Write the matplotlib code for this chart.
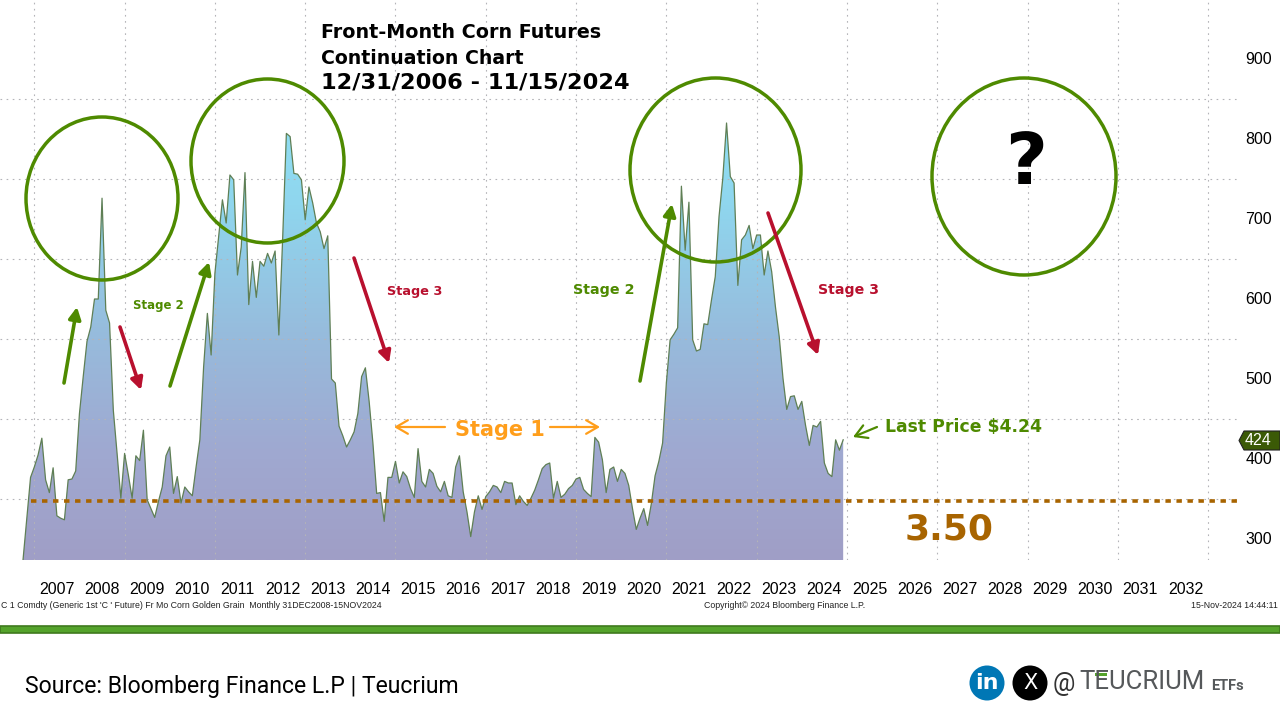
import numpy as np
import matplotlib
matplotlib.use("Agg")
import matplotlib.pyplot as plt
from matplotlib.colors import LinearSegmentedColormap
from matplotlib.patches import Ellipse, Circle, Polygon, Rectangle
from matplotlib.transforms import ScaledTranslation

# =========================
# Data
# =========================

# monthly closes, cents per bushel, the first two points are the clipped start
prices = [
    274, 325, 377, 390, 405, 426, 374, 358, 389, 329, 326, 324, 374, 375, 385, 457,
    503, 547, 565, 600, 600, 726, 586, 570, 461, 407, 351, 407, 380, 351, 404, 398,
    436, 349, 338, 327, 347, 365, 404, 415, 357, 378, 345, 365, 359, 354, 390, 424,
    515, 582, 530, 632, 678, 724, 695, 755, 749, 630, 665, 758, 593, 647, 602, 647,
    641, 657, 645, 660, 555, 674, 807, 803, 757, 756, 749, 699, 740, 720, 695, 684,
    663, 679, 500, 495, 441, 429, 415, 424, 434, 457, 503, 514, 472, 420, 357, 358,
    322, 377, 377, 397, 370, 384, 378, 363, 352, 413, 372, 365, 387, 382, 366, 359,
    372, 354, 352, 390, 404, 359, 334, 303, 334, 354, 337, 353, 359, 367, 365, 358,
    372, 370, 370, 343, 354, 347, 342, 351, 361, 374, 388, 393, 395, 351, 372, 352,
    356, 363, 367, 375, 377, 362, 357, 353, 427, 421, 399, 358, 387, 390, 372, 387,
    382, 367, 338, 312, 326, 338, 317, 344, 379, 397, 420, 495, 549, 556, 564, 741,
    661, 721, 549, 535, 537, 569, 568, 599, 628, 703, 751, 820, 753, 745, 617, 674,
    680, 692, 663, 680, 680, 630, 660, 634, 590, 553, 501, 462, 478, 479, 462, 472,
    442, 417, 442, 440, 447, 395, 382, 378, 424, 411, 424,
]
first_month = 2006.75
support_level = 347

year_labels = list(range(2007, 2033))
grid_years = list(range(2007, 2034, 2))
price_ticks = [300, 400, 500, 600, 700, 800, 900]
price_grid = [350, 450, 550, 650, 750, 850]

months = first_month + np.arange(len(prices)) / 12

# =========================
# Figure and price axes
# =========================

plt.rcParams["font.family"] = "DejaVu Sans"
label_font = "Liberation Sans"

fig = plt.figure(figsize=(12.8, 7.2), dpi=100, facecolor="white")
ax = fig.add_axes([0, 160 / 720, 1237 / 1280, 560 / 720])
ax.set_xlim(2006.24, 2033.64)
ax.set_ylim(273.75, 973.75)
for s in ax.spines.values():
    s.set_visible(False)

# gradient area
cmap = LinearSegmentedColormap.from_list(
    "area", [(0, "#a09ec6"), (0.25, "#9fa9d1"), (0.5, "#97bbdc"), (0.8, "#8fd6ee"), (1, "#8fdff3")]
)
grad = np.linspace(1, 0, 256).reshape(-1, 1)
img = ax.imshow(grad, extent=[2006, 2034, 273.75, 830], aspect="auto", cmap=cmap, zorder=1)
area = ax.fill_between(months, 273.75, prices, facecolor="none", edgecolor="none")
img.set_clip_path(area.get_paths()[0], transform=ax.transData)
ax.set_xlim(2006.24, 2033.64)
ax.set_ylim(273.75, 973.75)
ax.plot(months, prices, color="#5f7f55", lw=0.9, zorder=3)

# grid on the minor ticks, labels on the major ones
ax.set_xticks([y + 0.5 for y in year_labels], [str(y) for y in year_labels])
ax.set_xticks(grid_years, minor=True)
ax.yaxis.tick_right()
ax.set_yticks(price_ticks, [str(p) for p in price_ticks])
ax.set_yticks(price_grid, minor=True)
ax.tick_params(axis="x", which="major", length=0, pad=15.5, labelsize=11.5, labelfontfamily=label_font)
ax.tick_params(axis="y", which="major", length=0, pad=6, labelsize=11.5, labelfontfamily=label_font)
ax.tick_params(which="minor", length=0)
ax.grid(which="minor", color="#b4b4b8", lw=0.8, ls=(0, (1.5, 4)), zorder=2)
ax.set_axisbelow(False)

# price labels sit a little above their level in the original
up = ScaledTranslation(0, 1.5 / 100, fig.dpi_scale_trans)
for lab in ax.get_yticklabels():
    lab.set_transform(lab.get_transform() + up)

# support line
ax.plot([months[2], 2033.64], [support_level, support_level], color="#a86400",
        lw=2.6, ls=(0, (1.5, 1.55)), dash_capstyle="butt", zorder=4)

# =========================
# Overlay in pixels for the callouts
# =========================

ov = fig.add_axes([0, 0, 1, 1], facecolor="none")
ov.set_xlim(0, 1280)
ov.set_ylim(720, 0)
ov.axis("off")

green = "#4e8a00"
red = "#b8102e"
orange = "#ff9e1b"

for (l, r, t, b) in [(26, 178, 117, 280), (191, 344, 79, 243), (630, 801, 78, 262), (932, 1116, 78, 275)]:
    ov.add_patch(Ellipse(((l + r) / 2, (t + b) / 2), r - l, b - t, fill=False, ec=green, lw=2.5))


def arrow(start, end, color, lw=2.6, style="-|>,head_length=0.5,head_width=0.26", scale=14):
    ov.annotate("", xy=end, xytext=start,
                arrowprops=dict(arrowstyle=style, color=color, lw=lw, mutation_scale=scale,
                                shrinkA=0, shrinkB=0))


arrow((64, 383), (77, 307), green)
arrow((170, 386), (209, 262), green)
arrow((640, 381), (672, 204), green)
arrow((120, 327), (141, 390), red)
arrow((354, 258), (389, 363), red)
arrow((768, 213), (818, 355), red)

open_head = "->,head_length=0.6,head_width=0.35"
arrow((445, 427), (394, 427), orange, lw=1.6, style=open_head)
arrow((550, 427), (600, 427), orange, lw=1.6, style=open_head)
arrow((877, 427), (853, 437), green, lw=1.6, style=open_head)

ov.text(321, 33, "Front-Month Corn Futures", fontsize=13.8, fontweight="bold", ha="left", va="center")
ov.text(321, 58, "Continuation Chart", fontsize=13.6, fontweight="bold", ha="left", va="center")
ov.text(321, 82, "12/31/2006 - 11/15/2024", fontsize=16.2, fontweight="bold", ha="left", va="center")
ov.text(158, 305, "Stage 2", color=green, fontsize=8.5, fontweight="bold", ha="center", va="center")
ov.text(415, 292, "Stage 3", color=red, fontsize=9.3, fontweight="bold", ha="center", va="center")
ov.text(604, 290, "Stage 2", color=green, fontsize=10.3, fontweight="bold", ha="center", va="center")
ov.text(848, 290, "Stage 3", color=red, fontsize=10.2, fontweight="bold", ha="center", va="center")
ov.text(500, 430, "Stage 1", color=orange, fontsize=15, fontweight="bold", ha="center", va="center")
ov.text(885, 427, "Last Price $4.24", color=green, fontsize=12.4, fontweight="bold", ha="left", va="center")
ov.text(949, 529, "3.50", color="#a86400", fontsize=26, fontweight="bold", ha="center", va="center")
ov.text(1026, 165, "?", color="black", fontsize=52, fontweight="bold", ha="center", va="center")

# last price tag
ov.add_patch(Polygon([(1239, 440.5), (1244, 431), (1280, 431), (1280, 450), (1244, 450)],
                     closed=True, fc="#3b5a06", ec="#222222", lw=0.8))
ov.text(1258, 440.5, "424", color="white", fontsize=11.5, family=label_font, ha="center", va="center")

# =========================
# Footer
# =========================

ov.text(1, 605, "C 1 Comdty (Generic 1st 'C ' Future) Fr Mo Corn Golden Grain  Monthly 31DEC2008-15NOV2024",
        fontsize=6.3, family=label_font, color="#222222", ha="left", va="center")
ov.text(704, 605, "Copyright\u00a9 2024 Bloomberg Finance L.P.", fontsize=6.3, family=label_font,
        color="#222222", ha="left", va="center")
ov.text(1278, 605, "15-Nov-2024 14:44:11", fontsize=6.3, family=label_font, color="#222222",
        ha="right", va="center")

ov.add_patch(Rectangle((0, 625.5), 1280, 7.5, fc="#54a32b", ec="#3f7a1e", lw=1.2))

ov.text(25, 686, "Source: Bloomberg Finance L.P | Teucrium", fontsize=16.6, family="Roboto",
        color="black", ha="left", va="center")

# logos
ov.add_patch(Circle((987, 683), 17.5, fc="#0077b5", ec="none"))
ov.text(987, 683, "in", color="white", fontsize=16, fontweight="bold", ha="center", va="center")
ov.add_patch(Circle((1030, 683), 17.5, fc="black", ec="none"))
ov.text(1030, 683, "X", color="white", fontsize=15, ha="center", va="center")
ov.text(1064, 684, "@", color="#333333", fontsize=18, family="Roboto", ha="center", va="center")
ov.text(1079, 682, "TEUCRIUM", color="#55585a", fontsize=18.5, family="Roboto", ha="left", va="center")
ov.text(1211, 686, "ETFs", color="#55585a", fontsize=10.5, family="Roboto", fontweight="bold", ha="left", va="center")
ov.add_patch(Rectangle((1095, 673), 12, 2.5, fc="#54a32b", ec="none"))

fig.savefig("out.png", dpi=100)
